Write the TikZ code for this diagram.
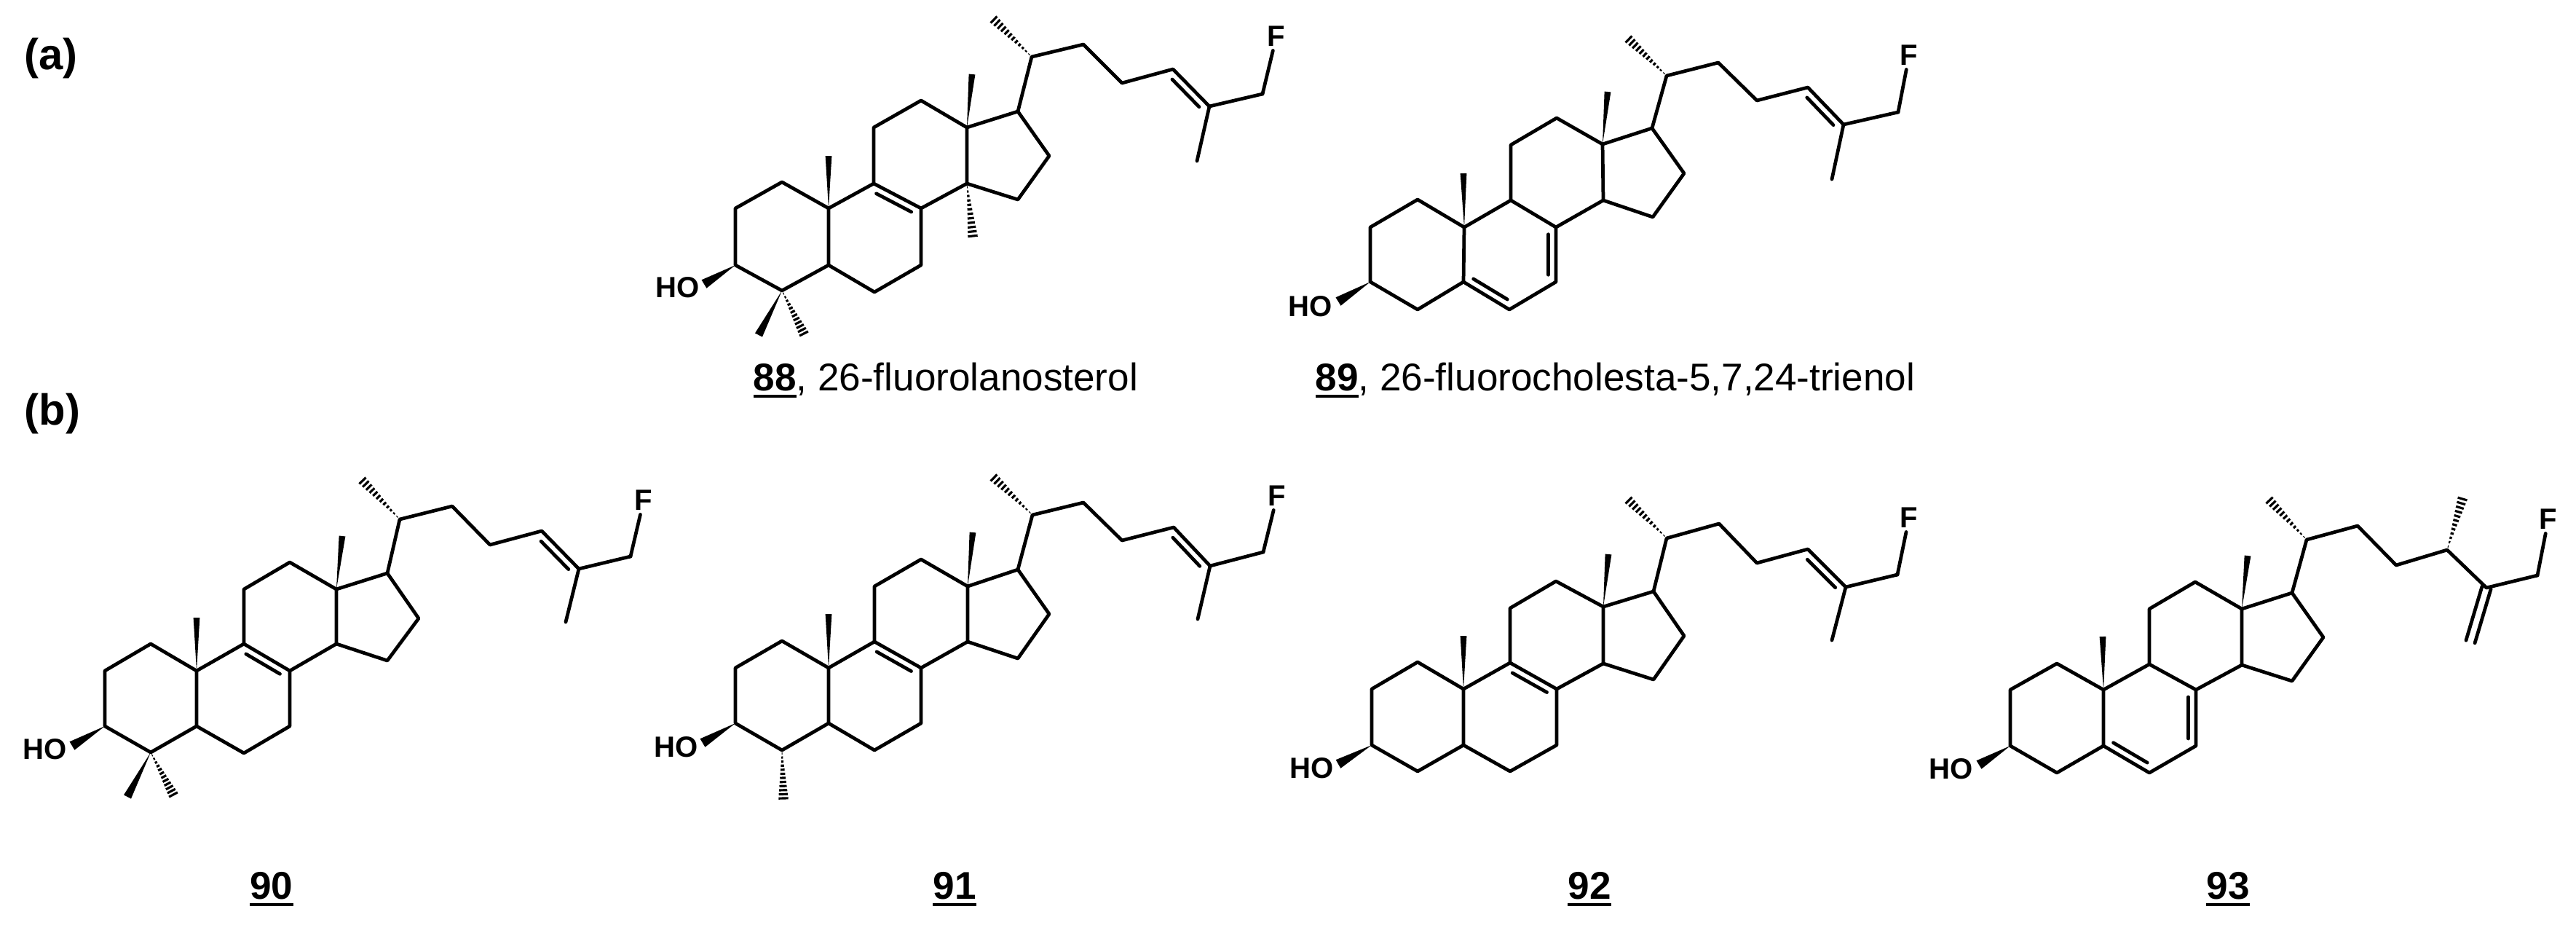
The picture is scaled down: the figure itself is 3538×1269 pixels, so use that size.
\documentclass[tikz,border=0pt]{standalone}
\usepackage{fontspec}
\setmainfont{Liberation Sans}
\usetikzlibrary{calc}
\tikzset{
  bond/.style={line width=1.35pt,line cap=round,line join=round,black},
  hashline/.style={line width=0.9pt,line cap=butt,black},
  atomlabel/.style={font=\fontsize{11.4pt}{13pt}\selectfont\bfseries,inner sep=1.4pt,text=black},
  partlabel/.style={font=\fontsize{17pt}{20pt}\selectfont\bfseries,anchor=base west,inner sep=0pt,text=black},
  caption/.style={font=\fontsize{15.1pt}{18pt}\selectfont,anchor=base west,inner sep=0pt,text=black},
  numcaption/.style={caption,anchor=base}
}
\newcommand{\ulnum}[1]{\leavevmode\setbox0\hbox{\bfseries #1}\rlap{\rule[-2.9pt]{\wd0}{1.2pt}}\box0}
\newcommand{\mkAtoms}[2]{\foreach \n/\x/\y in {#2} {\coordinate (#1\n) at (\x,\y);}}
\newcommand{\mkWedge}[3]{\fill[black] (#1) -- ($(#2)!#3pt!90:(#1)$) -- ($(#2)!#3pt!-90:(#1)$) -- cycle;}
\newcommand{\mkHash}[3]{\foreach \t in {1,...,12} {
  \pgfmathsetmacro\hwd{#3*\t/12}
  \pgfmathsetmacro\frc{(\t-0.2)/11.8}
  \coordinate (hp) at ($(#1)!\frc!(#2)$);
  \draw[hashline] ($(hp)!\hwd pt!90:(#1)$) -- ($(hp)!\hwd pt!-90:(#1)$);}}
\newcommand{\mkInner}[2]{
  \coordinate (ip) at ($(#1)!0.13!(#2)$);
  \coordinate (iq) at ($(#1)!0.87!(#2)$);
  \draw[bond] ($(ip)!3pt!90:(iq)$) -- ($(iq)!3pt!-90:(ip)$);}
% skeleton shared by every sterol: rings, C18/C19 wedges, OH wedge, side chain
\newcommand{\mkSterol}[1]{
  \draw[bond] (#1c3)--(#1c2)--(#1c1)--(#1c10)--(#1c5)--(#1c4)--cycle;
  \draw[bond] (#1c5)--(#1c6)--(#1c7)--(#1c8)--(#1c9)--(#1c10);
  \draw[bond] (#1c9)--(#1c11)--(#1c12)--(#1c13)--(#1c14)--(#1c8);
  \draw[bond] (#1c14)--(#1c15)--(#1c16)--(#1c17)--(#1c13);
  \draw[bond] (#1c17)--(#1c20)--(#1c22)--(#1c23)--(#1c24)--(#1c25)--(#1c26);
  \draw[bond] (#1c26)--(#1F);
  \mkWedge{#1c13}{#1c18}{1.25}
  \mkWedge{#1c10}{#1c19}{1.25}
  \mkWedge{#1c3}{#1ow}{1.9}
  \mkHash{#1c20}{#1c21}{1.8}
}
\begin{document}
\begin{tikzpicture}[x=0.01cm,y=-0.01cm]
\useasboundingbox (0,0) rectangle (3538,1269);

\node[partlabel] (parta) at (33,95) {(a)};
\node[partlabel] (partb) at (33,583) {(b)};

% 88
\mkAtoms{a}{c1/1074/250,c2/1010/286,c3/1010/364,c4/1074/399,c5/1138/364,c6/1201/401,c7/1265/364,c8/1265/286,c9/1200/252,c10/1138/286,c11/1200/175,c12/1265/138,c13/1328/175,c14/1328/252,c15/1398/274,c16/1441/214,c17/1398/153,c18/1335/102,c19/1138/214,c20/1417/78,c21/1365/27,c22/1488/61,c23/1541/114,c24/1611/95,c25/1661/146,c26/1734/129,c27/1644/221,ow/967/390,m14/1336/324,m4a/1042/460,m4b/1104/458}
\node[atomlabel] (aF) at (1753,50) {F};
\node[atomlabel] (aHO) at (931,395) {HO};
\mkSterol{a}
\draw[bond] (ac25)--(ac27);
\mkInner{ac8}{ac9}
\mkInner{ac25}{ac24}
\mkHash{ac14}{am14}{1.9}
\mkWedge{ac4}{am4a}{1.6}
\mkHash{ac4}{am4b}{1.9}
\node[caption] (capa) at (1034,536) {\ulnum{88}, 26-fluorolanosterol};

% 89
\mkAtoms{b}{c1/1947/274,c2/1882/312,c3/1882/387,c4/1947/425,c5/2010/387,c6/2073/425,c7/2137/387,c8/2137/312,c9/2075/275,c10/2011/312,c11/2075/199,c12/2138/162,c13/2201/198,c14/2202/275,c15/2270/298,c16/2313/238,c17/2269/176,c18/2208/126,c19/2010/238,c20/2289/104,c21/2237/54,c22/2360/86,c23/2413/138,c24/2483/120,c25/2532/171,c26/2607/154,c27/2516/246,ow/1838/414}
\node[atomlabel] (bF) at (2622,76) {F};
\node[atomlabel] (bHO) at (1800,421) {HO};
\mkSterol{b}
\draw[bond] (bc25)--(bc27);
\mkInner{bc5}{bc6}
\mkInner{bc7}{bc8}
\mkInner{bc25}{bc24}
\node[caption] (capb) at (1806,536) {\ulnum{89}, 26-fluorocholesta-5,7,24-trienol};

% 90
\mkAtoms{c}{c1/207/884,c2/144/921,c3/144/997,c4/207/1033,c5/270/997,c6/335/1034,c7/398/997,c8/398/921,c9/335/884,c10/270/921,c11/335/809,c12/398/772,c13/462/809,c14/462/884,c15/532/907,c16/575/849,c17/532/787,c18/470/736,c19/270/848,c20/549/713,c21/498/660,c22/621/695,c23/673/748,c24/744/729,c25/795/781,c26/866/764,c27/777/854,ow/99/1024,m4a/175/1094,m4b/238/1091}
\node[atomlabel] (cF) at (884,687) {F};
\node[atomlabel] (cHO) at (62,1029) {HO};
\mkSterol{c}
\draw[bond] (cc25)--(cc27);
\mkInner{cc8}{cc9}
\mkInner{cc25}{cc24}
\mkWedge{cc4}{cm4a}{1.6}
\mkHash{cc4}{cm4b}{1.9}
\node[numcaption] (lab90) at (373,1234) {\ulnum{90}};

% 91
\mkAtoms{d}{c1/1074/880,c2/1010/917,c3/1010/993,c4/1074/1030,c5/1138/993,c6/1201/1030,c7/1265/993,c8/1265/917,c9/1201/881,c10/1138/917,c11/1201/805,c12/1265/768,c13/1329/805,c14/1329/881,c15/1398/904,c16/1441/843,c17/1398/782,c18/1336/731,c19/1138/843,c20/1418/707,c21/1365/656,c22/1488/690,c23/1541/742,c24/1612/724,c25/1662/777,c26/1735/758,c27/1645/850,ow/965/1020,m4/1076/1096}
\node[atomlabel] (dF) at (1754,681) {F};
\node[atomlabel] (dHO) at (929,1026) {HO};
\mkSterol{d}
\draw[bond] (dc25)--(dc27);
\mkInner{dc8}{dc9}
\mkInner{dc25}{dc24}
\mkHash{dc4}{dm4}{1.9}
\node[numcaption] (lab91) at (1311,1234) {\ulnum{91}};

% 92
\mkAtoms{e}{c1/1947/909,c2/1884/946,c3/1884/1023,c4/1947/1059,c5/2010/1023,c6/2074/1059,c7/2138/1023,c8/2138/946,c9/2074/910,c10/2010/946,c11/2074/835,c12/2137/798,c13/2202/833,c14/2202/911,c15/2271/933,c16/2313/873,c17/2271/812,c18/2209/761,c19/2010/873,c20/2289/739,c21/2237/687,c22/2361/719,c23/2413/773,c24/2483/754,c25/2535/806,c26/2606/789,c27/2516/879,ow/1838/1049}
\node[atomlabel] (eF) at (2622,711) {F};
\node[atomlabel] (eHO) at (1802,1055) {HO};
\mkSterol{e}
\draw[bond] (ec25)--(ec27);
\mkInner{ec8}{ec9}
\mkInner{ec25}{ec24}
\node[numcaption] (lab92) at (2183,1234) {\ulnum{92}};

% 93
\mkAtoms{f}{c1/2825/911,c2/2761/947,c3/2761/1024,c4/2825/1061,c5/2889/1024,c6/2952/1061,c7/3016/1024,c8/3016/947,c9/2952/912,c10/2889/947,c11/2952/836,c12/3015/799,c13/3079/836,c14/3079/913,c15/3148/935,c16/3191/875,c17/3148/814,c18/3087/763,c19/2888/874,c20/3168/741,c21/3117/687,c22/3238/722,c23/3291/776,c24/3361/755,c25/3415/807,c26/3485/790,c27/3393/881,ow/2718/1050,m24/3382/685}
\node[atomlabel] (fF) at (3500,713) {F};
\node[atomlabel] (fHO) at (2680,1056) {HO};
\mkSterol{f}
\draw[bond] ($(fc25)!1.8pt!90:(fc27)$) -- ($(fc27)!1.8pt!-90:(fc25)$);
\draw[bond] ($(fc25)!1.8pt!-90:(fc27)$) -- ($(fc27)!1.8pt!90:(fc25)$);
\mkInner{fc5}{fc6}
\mkInner{fc7}{fc8}
\mkHash{fc24}{fm24}{1.9}
\node[numcaption] (lab93) at (3060,1234) {\ulnum{93}};
\end{tikzpicture}
\end{document}
